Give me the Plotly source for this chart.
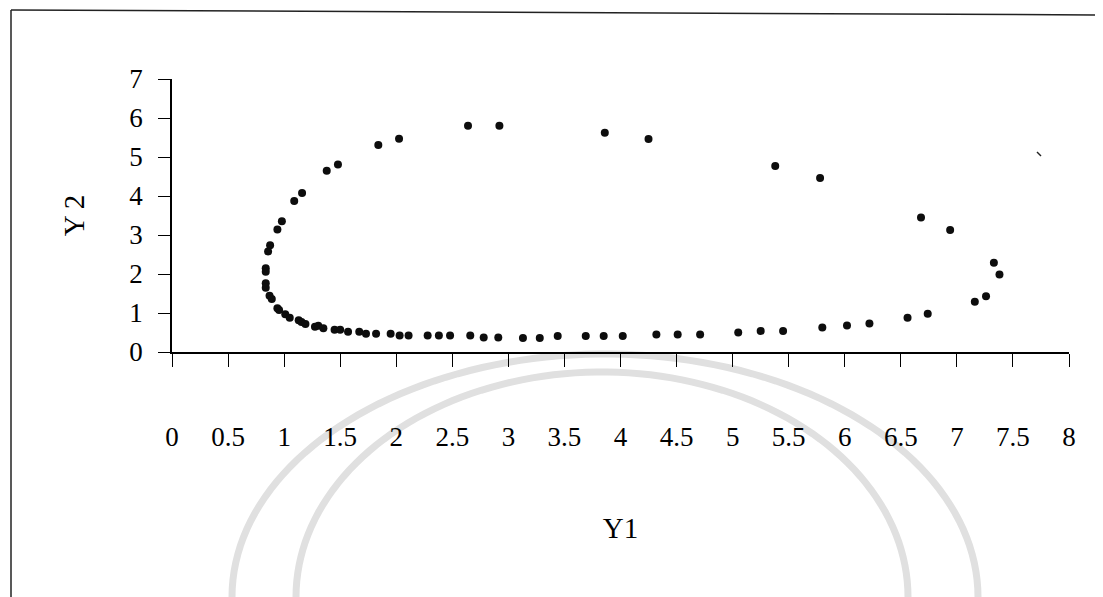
import plotly.graph_objects as go
import numpy as np

# ---- data ----
y1_values = [7.38, 7.33, 6.94, 6.68, 5.78, 5.38, 4.25, 3.86, 2.92, 2.64, 2.025, 1.84,
             1.48, 1.38, 1.16, 1.09, 0.98, 0.94, 0.875, 0.857, 0.836, 0.836, 0.836, 0.836,
             0.87, 0.89, 0.94, 0.955, 1.01, 1.05, 1.13, 1.155, 1.19, 1.275, 1.305, 1.35,
             1.45, 1.50, 1.57, 1.67, 1.73, 1.82, 1.95, 2.03, 2.11, 2.28, 2.38, 2.48,
             2.66, 2.78, 2.91, 3.13, 3.28, 3.44, 3.69, 3.85, 4.02, 4.32, 4.51, 4.71,
             5.05, 5.25, 5.45, 5.80, 6.02, 6.22, 6.56, 6.74, 7.16, 7.26]
y2_values = [1.99, 2.29, 3.13, 3.45, 4.46, 4.77, 5.46, 5.62, 5.80, 5.80, 5.47, 5.31,
             4.81, 4.65, 4.08, 3.87, 3.35, 3.14, 2.74, 2.58, 2.15, 2.06, 1.76, 1.65,
             1.44, 1.36, 1.12, 1.08, 0.97, 0.88, 0.815, 0.77, 0.72, 0.65, 0.67, 0.61,
             0.57, 0.57, 0.52, 0.52, 0.47, 0.47, 0.47, 0.42, 0.42, 0.42, 0.42, 0.42,
             0.42, 0.37, 0.37, 0.36, 0.36, 0.41, 0.41, 0.41, 0.41, 0.45, 0.45, 0.45,
             0.50, 0.54, 0.54, 0.63, 0.68, 0.73, 0.88, 0.98, 1.29, 1.43]
x_ticks = [0, 0.5, 1, 1.5, 2, 2.5, 3, 3.5, 4, 4.5, 5, 5.5, 6, 6.5, 7, 7.5, 8]
x_tick_labels = ["0", "0.5", "1", "1.5", "2", "2.5", "3", "3.5", "4", "4.5",
                 "5", "5.5", "6", "6.5", "7", "7.5", "8"]
y_ticks = [0, 1, 2, 3, 4, 5, 6, 7]
y_tick_labels = ["0", "1", "2", "3", "4", "5", "6", "7"]

# page offset (default body margin of the html page)
OFF = 8
W, H = 1103 - OFF, 597 - OFF
# plot area in page pixels: x 172..1069, y 79..352
ML = 172 - OFF
MT = 79 - OFF
MR = W - (1069 - OFF)
MB = H - (352 - OFF)
PW, PH = W - ML - MR, H - MT - MB


def px(x):
    """page pixel x -> paper coordinate"""
    return (x - OFF - ML) / PW


def py(y):
    """page pixel y -> paper coordinate"""
    return (H - MB - (y - OFF)) / PH


FONT = "Liberation Serif, Times New Roman, serif"
INK = "#000000"

fig = go.Figure()
fig.add_trace(go.Scatter(
    x=y1_values, y=y2_values, mode="markers",
    marker=dict(size=8, color="#0d0d0d", line=dict(width=0)),
    showlegend=False, cliponaxis=False,
))


# faint watermark arches (decoration)
def arch(cx, a, b, n=90):
    t = np.linspace(np.pi, 0, n)
    xs = cx + a * np.cos(t)
    ys = 597 - b * np.sin(t)
    pts = [f"{px(x):.5f},{py(y):.5f}" for x, y in zip(xs, ys)]
    return "M " + " L ".join(pts)


shapes = []
for cx, a, b in [(605, 373, 243), (602, 306, 225)]:
    shapes.append(dict(type="path", xref="paper", yref="paper", path=arch(cx, a, b),
                       line=dict(color="#e0e0e0", width=7), layer="below"))

# scanned page frame
shapes.append(dict(type="line", xref="paper", yref="paper",
                   x0=px(11), y0=py(10), x1=px(11), y1=py(600),
                   line=dict(color="#222222", width=1.5)))
shapes.append(dict(type="line", xref="paper", yref="paper",
                   x0=px(11), y0=py(10), x1=px(1103), y1=py(15),
                   line=dict(color="#222222", width=1.5)))
shapes.append(dict(type="line", xref="paper", yref="paper",
                   x0=px(1037), y0=py(152), x1=px(1041), y1=py(156),
                   line=dict(color="#222222", width=1.5)))

fig.update_layout(
    width=W, height=H,
    margin=dict(l=ML, r=MR, t=MT, b=MB, autoexpand=False),
    paper_bgcolor="white", plot_bgcolor="rgba(0,0,0,0)",
    font=dict(family=FONT, color=INK, size=27),
    shapes=shapes,
    xaxis=dict(
        range=[0, 8], tickmode="array", tickvals=x_ticks, ticktext=x_tick_labels,
        showgrid=False, zeroline=False, showline=True, linecolor=INK, linewidth=1.6,
        ticks="outside", ticklen=13, tickwidth=1.3, tickcolor=INK,
        tickfont=dict(family=FONT, size=27, color=INK),
        ticklabelstandoff=47,
        title=dict(text="Y1", font=dict(family=FONT, size=29, color=INK), standoff=66),
        automargin=False,
    ),
    yaxis=dict(
        range=[0, 7], tickmode="array", tickvals=y_ticks, ticktext=y_tick_labels,
        showgrid=False, zeroline=False, showline=True, linecolor=INK, linewidth=1.6,
        ticks="outside", ticklen=12, tickwidth=1.3, tickcolor=INK,
        tickfont=dict(family=FONT, size=27, color=INK),
        ticklabelstandoff=10,
        title=dict(text="Y 2", font=dict(family=FONT, size=29, color=INK), standoff=36),
        automargin=False,
    ),
)

fig.write_html("out.html")
